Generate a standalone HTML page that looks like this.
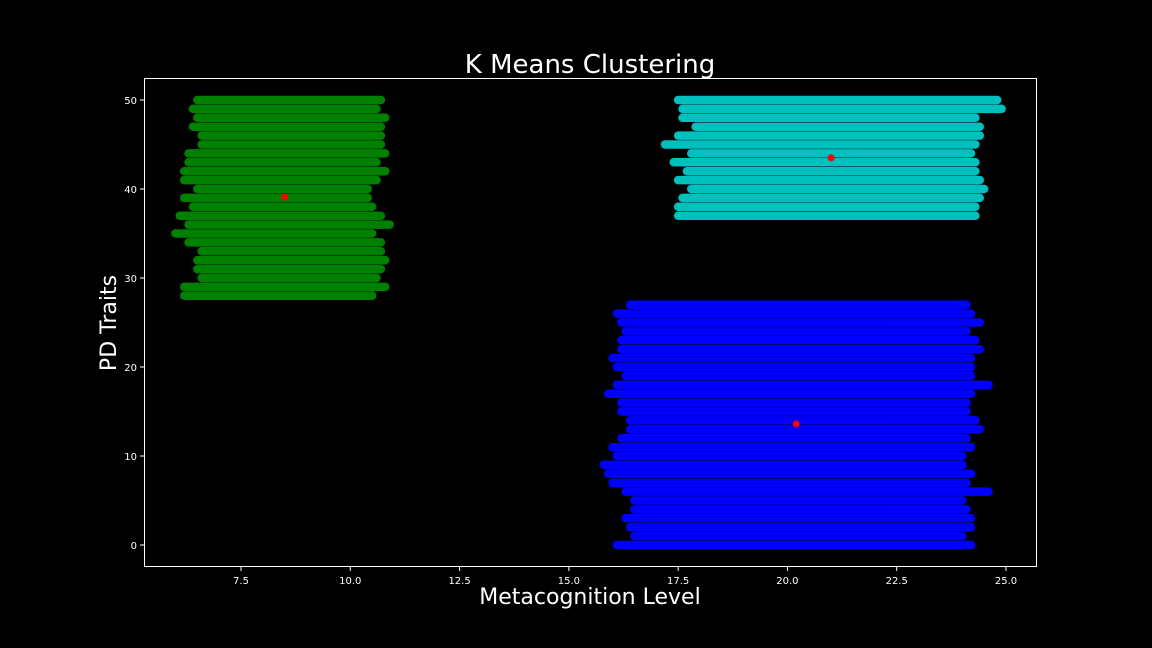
<!DOCTYPE html>
<html><head><meta charset="utf-8"><style>
html,body{margin:0;padding:0;background:#000;}
svg{display:block;font-family:"DejaVu Sans","Liberation Sans",sans-serif;}
</style></head><body>
<svg id="chart" width="1152" height="648" viewBox="0 0 1152 648">
<rect width="1152" height="648" fill="#000"/>
<text x="590" y="73" fill="#fff" font-size="26" text-anchor="middle">K Means Clustering</text>
<text x="590" y="604" fill="#fff" font-size="22" text-anchor="middle">Metacognition Level</text>
<text transform="translate(116,323) rotate(-90)" fill="#fff" font-size="22" text-anchor="middle">PD Traits</text>
<g id="marks"></g>
<rect x="144.5" y="78.5" width="892" height="488" fill="none" stroke="#fff" stroke-width="1"/>
<g id="axes"></g>
</svg>
<script>
const xTicks=[7.5,10.0,12.5,15.0,17.5,20.0,22.5,25.0];
const yTicks=[0,10,20,30,40,50];
const greenRows=[28,29,30,31,32,33,34,35,36,37,38,39,40,41,42,43,44,45,46,47,48,49,50];
const greenStart=[6.2,6.2,6.6,6.5,6.5,6.6,6.3,6.0,6.3,6.1,6.4,6.2,6.5,6.2,6.2,6.3,6.3,6.6,6.6,6.4,6.5,6.4,6.5];
const greenEnd=[10.5,10.8,10.6,10.7,10.8,10.7,10.7,10.5,10.9,10.7,10.5,10.4,10.4,10.6,10.8,10.6,10.8,10.7,10.7,10.7,10.8,10.6,10.7];
const cyanRows=[37,38,39,40,41,42,43,44,45,46,47,48,49,50];
const cyanStart=[17.5,17.5,17.6,17.8,17.5,17.7,17.4,17.8,17.2,17.5,17.9,17.6,17.6,17.5];
const cyanEnd=[24.3,24.3,24.4,24.5,24.4,24.3,24.3,24.2,24.3,24.4,24.4,24.3,24.9,24.8];
const blueRows=[0,1,2,3,4,5,6,7,8,9,10,11,12,13,14,15,16,17,18,19,20,21,22,23,24,25,26,27];
const blueStart=[16.1,16.5,16.4,16.3,16.5,16.5,16.3,16.0,15.9,15.8,16.1,16.0,16.2,16.4,16.4,16.2,16.2,15.9,16.1,16.3,16.1,16.0,16.2,16.2,16.3,16.2,16.1,16.4];
const blueEnd=[24.2,24.0,24.2,24.2,24.1,24.0,24.6,24.1,24.2,24.0,24.0,24.2,24.1,24.4,24.3,24.1,24.1,24.2,24.6,24.2,24.2,24.2,24.4,24.3,24.1,24.4,24.2,24.1];
const centX=[8.5,21.0,20.2];
const centY=[39.1,43.5,13.6];

const NS="http://www.w3.org/2000/svg";
const xs=v=>241+(v-7.5)*(1006-241)/17.5;
const ys=v=>545-v*(545-100)/50;
const marks=document.getElementById('marks');
const axes=document.getElementById('axes');
function mk(tag,attrs,parent){const e=document.createElementNS(NS,tag);for(const k in attrs)e.setAttribute(k,attrs[k]);parent.appendChild(e);return e;}
function drawCluster(rows,st,en,color,name){
  rows.forEach((r,i)=>{
    const l=mk('line',{x1:xs(st[i]),x2:xs(en[i]),y1:ys(r),y2:ys(r),stroke:color,'stroke-width':8.5,'stroke-linecap':'round'},marks);
    
    
  });
}
drawCluster(greenRows,greenStart,greenEnd,'#008000','green-cluster');
drawCluster(cyanRows,cyanStart,cyanEnd,'#00bfbf','cyan-cluster');
drawCluster(blueRows,blueStart,blueEnd,'#0000ff','blue-cluster');
centX.forEach((c,i)=>{
  const p=mk('circle',{cx:xs(c),cy:ys(centY[i]),r:3.5,fill:'#ff0000'},marks);
  
  
});
xTicks.forEach(t=>{
  const x=xs(t);
  const l=mk('line',{x1:x,x2:x,y1:567,y2:571,stroke:'#fff'},axes);
  
  
  const tx=mk('text',{x:x,y:584,fill:'#fff','font-size':10,'text-anchor':'middle'},axes);
  tx.textContent=t.toFixed(1);
  
  
});
yTicks.forEach(t=>{
  const y=ys(t);
  const l=mk('line',{x1:140,x2:144,y1:y,y2:y,stroke:'#fff'},axes);
  
  
  const tx=mk('text',{x:137,y:y+4,fill:'#fff','font-size':10,'text-anchor':'end'},axes);
  tx.textContent=t;
  
  
});
</script>
</body></html>
